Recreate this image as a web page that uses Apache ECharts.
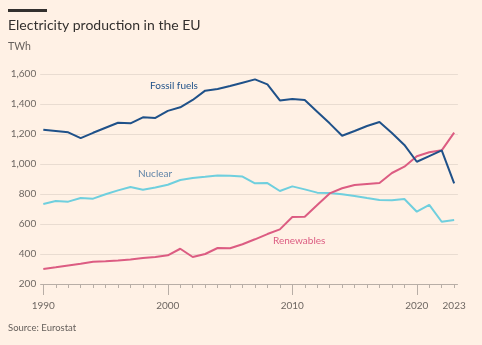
<!DOCTYPE html>
<html>
<head>
<meta charset="utf-8">
<style>
  html, body { margin: 0; padding: 0; background: #fff1e5; }
  #chart { width: 482px; height: 345px; }
</style>
<script src="https://cdn.jsdelivr.net/npm/echarts@6/dist/echarts.min.js"></script>
</head>
<body>
<div id="chart"></div>
<script>
// Annual EU electricity production by source, TWh
const years = [1990, 1991, 1992, 1993, 1994, 1995, 1996, 1997, 1998, 1999,
               2000, 2001, 2002, 2003, 2004, 2005, 2006, 2007, 2008, 2009,
               2010, 2011, 2012, 2013, 2014, 2015, 2016, 2017, 2018, 2019,
               2020, 2021, 2022, 2023];
const fossil = [1229, 1220, 1211, 1173, 1208, 1242, 1275, 1271, 1311, 1307,
                1354, 1378, 1427, 1489, 1500, 1520, 1542, 1564, 1531, 1424,
                1433, 1427, 1349, 1271, 1188, 1220, 1253, 1280, 1207, 1127,
                1015, 1053, 1091, 871];
const nuclear = [733, 753, 749, 773, 769, 798, 824, 847, 829, 844,
                 862, 893, 907, 915, 924, 922, 916, 871, 873, 820,
                 851, 831, 809, 807, 798, 787, 773, 760, 758, 767,
                 682, 727, 615, 627];
const renewables = [300, 311, 324, 335, 349, 351, 356, 364, 373, 380,
                    391, 435, 380, 400, 440, 438, 465, 498, 533, 564,
                    647, 649, 727, 804, 838, 860, 867, 873, 940, 982,
                    1052, 1078, 1091, 1209];
const xLabelYears = [1990, 2000, 2010, 2020, 2023];
const xMajorTicks = [1990, 2000, 2010, 2020];

const FONT = 'Lato, "Open Sans", sans-serif';
const pairs = vals => years.map((y, i) => [y, vals[i]]);

const chart = echarts.init(document.getElementById('chart'), null, { renderer: 'canvas' });

const xBase = {
  type: 'value',
  min: 1989.75,
  max: 2023.3,
  position: 'bottom',
  splitLine: { show: false },
  axisLine: { show: false }
};

chart.setOption({
  backgroundColor: '#fff1e5',
  animation: false,
  grid: { left: 40.2, right: 24.1, top: 74, bottom: 61, containLabel: false },
  xAxis: [
    Object.assign({}, xBase, {
      axisTick: { show: true, length: 11, lineStyle: { color: '#b8aea6', width: 1 }, customValues: xMajorTicks },
      axisLabel: {
        show: true, customValues: xLabelYears, margin: 17,
        color: '#6e6762', fontFamily: FONT, fontSize: 10,
        formatter: v => String(v)
      }
    }),
    Object.assign({}, xBase, {
      axisTick: { show: true, length: 4, lineStyle: { color: '#b8aea6', width: 1 }, customValues: years },
      axisLabel: { show: false }
    })
  ],
  yAxis: {
    type: 'value',
    min: 200,
    max: 1600,
    interval: 200,
    axisLine: { show: false },
    axisTick: { show: false },
    axisLabel: {
      color: '#6e6762', fontFamily: FONT, fontSize: 10, margin: 4,
      formatter: v => v.toLocaleString('en-US')
    },
    splitLine: {
      show: true,
      lineStyle: {
        color: ['#b8aea6', '#e9dcd1', '#e9dcd1', '#e9dcd1', '#e9dcd1', '#e9dcd1', '#e9dcd1', '#e9dcd1'],
        width: 1
      }
    }
  },
  series: [
    {
      name: 'Nuclear', type: 'line', data: pairs(nuclear), xAxisIndex: 0,
      showSymbol: false, lineStyle: { color: '#6fcfde', width: 2 }, z: 3
    },
    {
      name: 'Renewables', type: 'line', data: pairs(renewables), xAxisIndex: 0,
      showSymbol: false, lineStyle: { color: '#dc5c82', width: 2 }, z: 4
    },
    {
      name: 'Fossil fuels', type: 'line', data: pairs(fossil), xAxisIndex: 0,
      showSymbol: false, lineStyle: { color: '#1f5189', width: 2 }, z: 5
    }
  ],
  graphic: [
    { type: 'rect', left: 8, top: 9, shape: { width: 39, height: 3 }, style: { fill: '#33302e' } },
    { type: 'text', left: 8, top: 18, style: { text: 'Electricity production in the EU', fill: '#33302e', font: '14px ' + FONT } },
    { type: 'text', left: 8, top: 41, style: { text: 'TWh', fill: '#66605c', font: '10.5px ' + FONT } },
    { type: 'text', left: 150, top: 81, style: { text: 'Fossil fuels', fill: '#1f5189', font: '10px ' + FONT } },
    { type: 'text', left: 138, top: 169, style: { text: 'Nuclear', fill: '#5f84a8', font: '10px ' + FONT } },
    { type: 'text', left: 273, top: 236, style: { text: 'Renewables', fill: '#dc5c82', font: '10px ' + FONT } },
    { type: 'text', left: 8, top: 323, style: { text: 'Source: Eurostat', fill: '#66605c', font: '9.5px ' + FONT } }
  ]
});
</script>
</body>
</html>
